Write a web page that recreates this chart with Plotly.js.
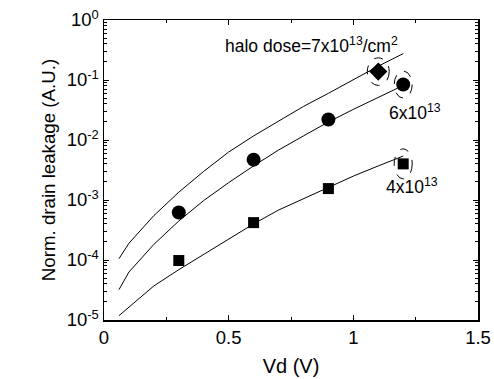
<!DOCTYPE html>
<html>
<head>
<meta charset="utf-8">
<script src="https://cdn.plot.ly/plotly-3.0.1.min.js"></script>
<style>
  html, body { margin: 0; padding: 0; background: #fff; }
  #chart { width: 494px; height: 379px; }
</style>
</head>
<body>
<div id="chart"></div>
<script>
// Simulated leakage curves (Vd in V, normalized leakage)
const simVd = [0.06, 0.1, 0.2, 0.3, 0.4, 0.5, 0.6, 0.7, 0.8, 0.9, 1.0, 1.1, 1.2];
const sim7e13 = [1.05e-4, 1.9e-4, 5.5e-4, 1.35e-3, 3.0e-3, 6.3e-3, 1.17e-2, 2.09e-2, 3.63e-2, 6.0e-2, 1.02e-1, 1.70e-1, 2.75e-1];
const simVdMid = [0.06, 0.1, 0.2, 0.3, 0.4, 0.5, 0.6, 0.7, 0.8, 0.9, 1.0, 1.1, 1.18];
const sim6e13 = [3.2e-5, 6.3e-5, 1.82e-4, 4.47e-4, 9.8e-4, 1.95e-3, 3.7e-3, 6.8e-3, 1.17e-2, 2.0e-2, 3.24e-2, 5.1e-2, 7.4e-2];
const sim4e13 = [1.18e-5, 1.62e-5, 3.7e-5, 6.9e-5, 1.23e-4, 2.24e-4, 4.0e-4, 6.8e-4, 1.05e-3, 1.58e-3, 2.5e-3, 3.7e-3, 5.4e-3];

// Measured points
const measVd6 = [0.3, 0.6, 0.9, 1.2];
const meas6e13 = [6.2e-4, 4.7e-3, 2.2e-2, 8.4e-2];
const measVd4 = [0.3, 0.6, 0.9, 1.2];
const meas4e13 = [9.8e-5, 4.2e-4, 1.55e-3, 4.0e-3];
const measVd7 = [1.1];
const meas7e13 = [0.138];

// Axis ticks
const xTickVals = [0, 0.5, 1, 1.5];
const xTickText = ['0', '0.5', '1', '1.5'];
const yTickVals = [1e-5, 1e-4, 1e-3, 1e-2, 1e-1, 1];
const yTickText = ['10<sup>-5</sup>', '10<sup>-4</sup>', '10<sup>-3</sup>', '10<sup>-2</sup>', '10<sup>-1</sup>', '10<sup>0</sup>'];
const minorDigits = [2, 3, 4, 5, 6, 7, 8, 9];

// Labels
const doseLabels = ['halo dose=7x10<sup>13</sup>/cm<sup>2</sup>', '6x10<sup>13</sup>', '4x10<sup>13</sup>'];

// Minor log ticks: 2..9 within each decade
const yMinorVals = [];
yTickVals.slice(0, -1).forEach(function (dec) {
  minorDigits.forEach(function (d) { yMinorVals.push(d * dec); });
});

const black = '#000';
const lineStyle = { color: black, width: 1 };

const traces = [
  { x: simVd, y: sim7e13, mode: 'lines', line: lineStyle, type: 'scatter' },
  { x: simVdMid, y: sim6e13, mode: 'lines', line: lineStyle, type: 'scatter' },
  { x: simVd, y: sim4e13, mode: 'lines', line: lineStyle, type: 'scatter' },
  { x: measVd6, y: meas6e13, mode: 'markers', type: 'scatter',
    marker: { symbol: 'circle', size: 14, color: black } },
  { x: measVd4, y: meas4e13, mode: 'markers', type: 'scatter',
    marker: { symbol: 'square', size: 11, color: black } },
  { x: measVd7, y: meas7e13, mode: 'markers', type: 'scatter',
    marker: { symbol: 'diamond', size: 14, color: black } }
];

// Dashed ellipse around a highlighted point; half-width in volts, half-height in decades
function ring(x, y, halfW, halfH) {
  const f = Math.pow(10, halfH);
  return {
    type: 'circle', xref: 'x', yref: 'y', layer: 'above',
    x0: x - halfW, x1: x + halfW, y0: y / f, y1: y * f,
    line: { color: black, width: 1, dash: 'dash' }
  };
}

const font = { family: 'Arial, "Liberation Sans", sans-serif', color: black };

const layout = {
  width: 494, height: 379,
  margin: { l: 104, r: 16, t: 20, b: 59 },
  paper_bgcolor: '#fff', plot_bgcolor: '#fff',
  showlegend: false,
  font: Object.assign({ size: 18 }, font),
  xaxis: {
    range: [0, 1.5],
    tickmode: 'array', tickvals: xTickVals, ticktext: xTickText,
    ticks: 'inside', ticklen: 5, tickcolor: black,
    showline: true, linecolor: black, linewidth: 1.5, mirror: 'ticks',
    showgrid: false, zeroline: false,
    minor: { ticks: 'inside', ticklen: 3, dtick: 0.25, tick0: 0, tickcolor: black, showgrid: false },
    tickfont: { size: 18.5 },
    title: { text: 'Vd (V)', font: { size: 20 }, standoff: 12 }
  },
  yaxis: {
    type: 'log', range: [-5, 0],
    tickmode: 'array', tickvals: yTickVals, ticktext: yTickText,
    ticks: 'inside', ticklen: 5, tickcolor: black,
    showline: true, linecolor: black, linewidth: 1.5, mirror: 'ticks',
    showgrid: false, zeroline: false,
    minor: { tickmode: 'array', tickvals: yMinorVals, ticks: 'inside', ticklen: 3, tickcolor: black, showgrid: false },
    tickfont: { size: 18.5 },
    title: { text: 'Norm. drain leakage (A.U.)', font: { size: 18.7 }, standoff: 6 }
  },
  shapes: [
    ring(measVd7[0], meas7e13[0], 0.044, 0.23),
    ring(measVd6[3], meas6e13[3], 0.036, 0.225),
    ring(measVd4[3], meas4e13[3], 0.036, 0.25)
  ],
  annotations: [
    { x: 0.477, y: -0.41, xref: 'x', yref: 'y', text: doseLabels[0], showarrow: false,
      xanchor: 'left', yanchor: 'middle', font: { size: 17.5 } },
    { x: 1.247, y: -1.53, xref: 'x', yref: 'y', text: doseLabels[1], showarrow: false,
      xanchor: 'center', yanchor: 'middle', font: { size: 17.5 } },
    { x: 1.236, y: -2.77, xref: 'x', yref: 'y', text: doseLabels[2], showarrow: false,
      xanchor: 'center', yanchor: 'middle', font: { size: 17.5 } }
  ]
};

Plotly.newPlot('chart', traces, layout, { displayModeBar: false, staticPlot: true });
</script>
</body>
</html>
